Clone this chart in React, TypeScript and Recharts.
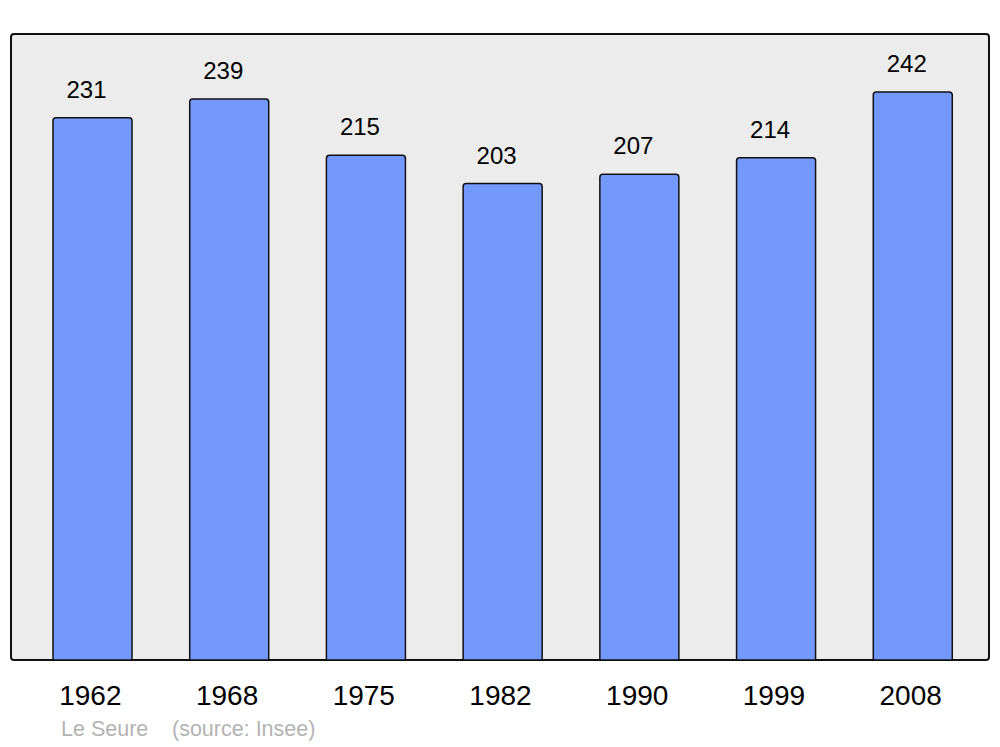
import {BarChart, Bar, XAxis, YAxis, LabelList} from 'recharts';

const years = ['1962', '1968', '1975', '1982', '1990', '1999', '2008'];
const population = [231, 239, 215, 203, 207, 214, 242];
const place = 'Le Seure';
const source = '(source: Insee)';

const chartData = years.map((year, i) => ({year, population: population[i]}));

const font = '"Liberation Sans", Arial, sans-serif';

const YearTick = (props: any) => {
    const {x, y, payload} = props;
    return (
        <text x={x - 2} y={y + 45} textAnchor='middle' fontSize={28} fill='#000' fontFamily={font}>
            {payload.value}
        </text>
    );
};

const ValueLabel = (props: any) => {
    const {x, y, width, value} = props;
    return (
        <text x={x + width / 2 - 6} y={y - 20} textAnchor='middle' fontSize={24} fill='#000' fontFamily={font}>
            {value}
        </text>
    );
};

const footerStyle = {
    position: 'absolute' as const,
    top: 717,
    fontFamily: font,
    fontSize: 21.5,
    color: '#b3b3b3',
    whiteSpace: 'pre' as const,
    lineHeight: '24px',
};

export default function App() {
    return (
        <div style={{position: 'absolute', left: 0, top: 0, width: 1000, height: 747, background: '#fff'}}>
            <div
                style={{
                    position: 'absolute',
                    left: 10,
                    top: 33,
                    width: 976,
                    height: 624,
                    background: '#ececec',
                    border: '2px solid #111',
                    borderRadius: 4,
                }}
            />
            <div style={{position: 'absolute', left: 0, top: 0}}>
                <BarChart
                    width={1000}
                    height={747}
                    data={chartData}
                    margin={{top: 34, right: 11, left: 11, bottom: 0}}
                    barSize={79}
                >
                    <XAxis
                        dataKey='year'
                        height={87}
                        axisLine={false}
                        tickLine={false}
                        tickSize={0}
                        tickMargin={0}
                        padding={{left: 13, right: 8}}
                        tick={<YearTick />}
                        interval={0}
                    />
                    <YAxis hide domain={[0, 266.7]} />
                    <Bar
                        dataKey='population'
                        fill='#7399ff'
                        stroke='#111'
                        strokeWidth={1.5}
                        radius={[3, 3, 0, 0]}
                        isAnimationActive={false}
                    >
                        <LabelList dataKey='population' content={<ValueLabel />} />
                    </Bar>
                </BarChart>
            </div>
            <div style={{...footerStyle, left: 61}}>{place}</div>
            <div style={{...footerStyle, left: 172}}>{source}</div>
        </div>
    );
}
